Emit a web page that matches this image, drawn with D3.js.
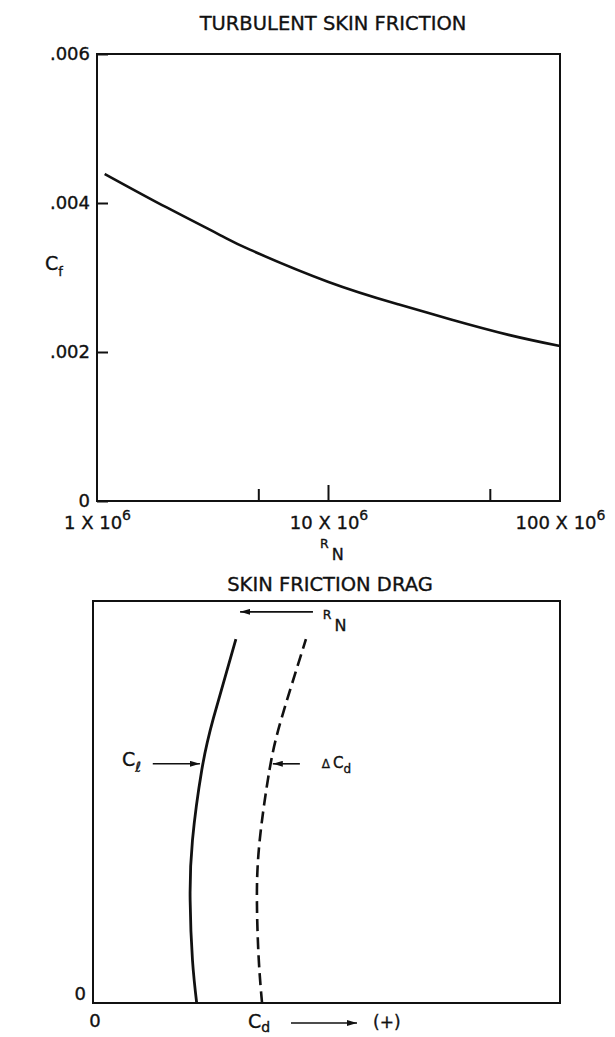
<!DOCTYPE html>
<html>
<head>
<meta charset="utf-8">
<script src="https://cdn.jsdelivr.net/npm/d3@7"></script>
<style>
  body { margin: 0; background: #fff; }
  svg text { font-family: "DejaVu Sans", sans-serif; fill: #111; stroke: #111; stroke-width: 0.35px; }
</style>
</head>
<body>
<div id="chart"></div>
<script>
// top chart: turbulent skin friction vs Reynolds number
const reynolds = [1.08e6, 2e6, 3.4e6, 4.6e6, 1e7, 2e7, 3.35e7, 6e7, 1e8];
const cfValues = [0.00439, 0.00394, 0.00357, 0.00337, 0.00294, 0.00264, 0.00244, 0.00223, 0.00208];
const cfTicks = [0, 0.002, 0.004, 0.006];
const cfTickLabels = ["0", ".002", ".004", ".006"];
const rnLabelTicks = [1e6, 1e7, 1e8];
const rnLabelText = ["1 X 10", "10 X 10", "100 X 10"];
const rnMinorTicks = [5e6, 1e7, 5e7];
const rnMinorLen = [12, 16, 12];

// bottom chart: schematic, no numbers on the axes (0..1 units)
const clValues = [0, 0.107, 0.256, 0.405, 0.58, 0.709, 0.905];
const cdSolid = [0.222, 0.213, 0.208, 0.213, 0.233, 0.258, 0.306];
const cdDashed = [0.362, 0.355, 0.351, 0.357, 0.378, 0.404, 0.456];

const W = 615, H = 1037;
const svg = d3.select('#chart').append('svg')
  .attr('width', W).attr('height', H);

// ---------- top chart ----------
const x1 = d3.scaleLog().domain([1e6, 1e8]).range([97, 560]);
const y1 = d3.scaleLinear().domain([0, 0.006]).range([501, 54]);

svg.append('text')
  .attr('x', 333).attr('y', 30)
  .attr('text-anchor', 'middle')
  .style('font-size', '19.5px')
  .text('TURBULENT SKIN FRICTION');

svg.append('rect')
  .attr('x', x1.range()[0]).attr('y', y1.range()[1])
  .attr('width', x1.range()[1] - x1.range()[0])
  .attr('height', y1.range()[0] - y1.range()[1])
  .attr('fill', 'none').attr('stroke', '#111').attr('stroke-width', 2);

const yAxis = svg.append('g')
  .attr('transform', `translate(${x1.range()[0]},0)`)
  .call(d3.axisLeft(y1).tickValues(cfTicks)
    .tickFormat((d, i) => cfTickLabels[i])
    .tickSizeInner(-11).tickSizeOuter(0).tickPadding(7));
yAxis.select('.domain').remove();
yAxis.selectAll('line').attr('stroke', '#111').attr('stroke-width', 2);
yAxis.selectAll('text').style('font-size', '18px').attr('fill', '#111');

// minor ticks on the Reynolds axis
svg.selectAll('.rnTick')
  .data(rnMinorTicks)
  .enter().append('line')
    .attr('class', 'rnTick')
    .attr('x1', d => x1(d)).attr('x2', d => x1(d))
    .attr('y1', y1(0)).attr('y2', (d, i) => y1(0) - rnMinorLen[i])
    .attr('stroke', '#111').attr('stroke-width', 2);

const xAxis = svg.append('g')
  .attr('transform', `translate(0,${y1(0)})`)
  .call(d3.axisBottom(x1).tickValues(rnLabelTicks)
    .tickFormat('').tickSize(0).tickPadding(28));
xAxis.select('.domain').remove();
xAxis.selectAll('.tick text')
  .style('font-size', '18px')
  .attr('fill', '#111')
  .attr('dy', 0)
  .each(function(d, i) {
    const t = d3.select(this);
    t.append('tspan').text(rnLabelText[i]);
    t.append('tspan').attr('dy', -9).style('font-size', '14px').text('6');
  });

// y title C_f
const cfLabel = svg.append('text').attr('x', 45).attr('y', 270);
cfLabel.append('tspan').style('font-size', '19px').text('C');
cfLabel.append('tspan').attr('dy', 6).style('font-size', '13px').text('f');

// x title R_N
const rnLabel = svg.append('text').attr('x', 320).attr('y', 548);
rnLabel.append('tspan').style('font-size', '12.5px').text('R');
rnLabel.append('tspan').attr('dy', 12).attr('dx', 3).style('font-size', '16px').text('N');

const cfLine = d3.line()
  .x((d, i) => x1(reynolds[i]))
  .y(d => y1(d))
  .curve(d3.curveNatural);

svg.append('path')
  .datum(cfValues)
  .attr('d', cfLine)
  .attr('fill', 'none').attr('stroke', '#111').attr('stroke-width', 2.6);

// ---------- bottom chart ----------
const x2 = d3.scaleLinear().domain([0, 1]).range([93, 560]);
const y2 = d3.scaleLinear().domain([0, 1]).range([1003, 601]);

svg.append('text')
  .attr('x', 330).attr('y', 591)
  .attr('text-anchor', 'middle')
  .style('font-size', '19.5px')
  .text('SKIN FRICTION DRAG');

svg.append('rect')
  .attr('x', x2(0)).attr('y', y2(1))
  .attr('width', x2(1) - x2(0)).attr('height', y2(0) - y2(1))
  .attr('fill', 'none').attr('stroke', '#111').attr('stroke-width', 2);

svg.append('text').attr('x', x2(0) - 7).attr('y', y2(0) - 3)
  .attr('text-anchor', 'end').style('font-size', '18px').text('0');
svg.append('text').attr('x', x2(0) + 2).attr('y', y2(0) + 24)
  .attr('text-anchor', 'middle').style('font-size', '18px').text('0');

const clLine = cds => d3.line()
  .x((d, i) => x2(cds[i]))
  .y(d => y2(d))
  .curve(d3.curveNatural)(clValues);

svg.append('path')
  .attr('d', clLine(cdSolid))
  .attr('fill', 'none').attr('stroke', '#111').attr('stroke-width', 2.8);
svg.append('path')
  .attr('d', clLine(cdDashed))
  .attr('fill', 'none').attr('stroke', '#111').attr('stroke-width', 2.6)
  .attr('stroke-dasharray', '12,6');

// arrows
const defs = svg.append('defs');
defs.append('marker')
  .attr('id', 'head').attr('viewBox', '0 0 10 6')
  .attr('refX', 10).attr('refY', 3)
  .attr('markerWidth', 10).attr('markerHeight', 6)
  .attr('markerUnits', 'userSpaceOnUse')
  .attr('orient', 'auto')
  .append('path').attr('d', 'M0,0L10,3L0,6Z').attr('fill', '#111');

const arrows = [
  {from: [0.471, 0.973], to: [0.315, 0.973]},
  {from: [0.128, 0.595], to: [0.229, 0.595]},
  {from: [0.443, 0.595], to: [0.385, 0.595]},
];
svg.selectAll('.arrow')
  .data(arrows)
  .enter().append('line')
    .attr('class', 'arrow')
    .attr('x1', d => x2(d.from[0])).attr('y1', d => y2(d.from[1]))
    .attr('x2', d => x2(d.to[0])).attr('y2', d => y2(d.to[1]))
    .attr('stroke', '#111').attr('stroke-width', 1.6)
    .attr('marker-end', 'url(#head)');

// R_N label near top arrow
const rn2 = svg.append('text').attr('x', x2(0.492)).attr('y', y2(0.955));
rn2.append('tspan').style('font-size', '12.5px').text('R');
rn2.append('tspan').attr('dy', 12).attr('dx', 3).style('font-size', '16px').text('N');

// delta Cd label
const dcd = svg.append('text').attr('x', x2(0.49)).attr('y', y2(0.585));
dcd.append('tspan').style('font-size', '12px').text('\u0394');
dcd.append('tspan').attr('dx', 3).style('font-size', '15px').text('C');
dcd.append('tspan').attr('dy', 5).style('font-size', '12px').text('d');

// C_l label
const clLabel = svg.append('text').attr('x', 122).attr('y', 766);
clLabel.append('tspan').style('font-size', '19px').text('C');
clLabel.append('tspan').attr('dy', 6).style('font-size', '14px').text('\u2113');

// C_d ---> (+)
const cdLabel = svg.append('text').attr('x', 248).attr('y', 1028);
cdLabel.append('tspan').style('font-size', '19px').text('C');
cdLabel.append('tspan').attr('dy', 4).style('font-size', '14px').text('d');

svg.append('line')
  .attr('x1', 291).attr('x2', 357).attr('y1', 1023).attr('y2', 1023)
  .attr('stroke', '#111').attr('stroke-width', 1.6)
  .attr('marker-end', 'url(#head)');
svg.append('text').attr('x', 373).attr('y', 1028)
  .style('font-size', '17px').text('(+)');
</script>
</body>
</html>
